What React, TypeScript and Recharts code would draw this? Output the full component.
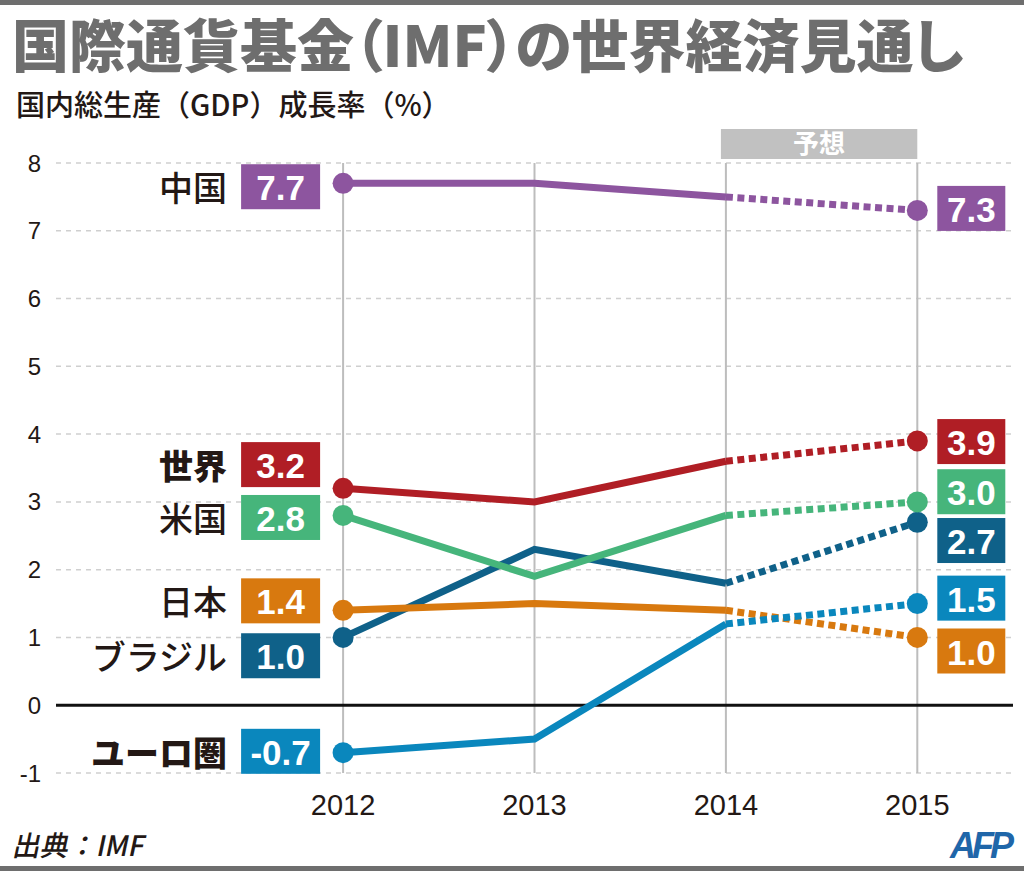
import {
  LineChart,
  Line,
  XAxis,
  YAxis,
  CartesianGrid,
  ReferenceLine,
  ReferenceArea,
  ReferenceDot,
} from 'recharts';

const years = [2012, 2013, 2014, 2015];
const forecastStart = 2014;
const yTicks = [-1, 0, 1, 2, 3, 4, 5, 6, 7, 8];

const chinaGrowth = [7.7, 7.7, 7.5, 7.3];
const worldGrowth = [3.2, 3.0, 3.6, 3.9];
const usGrowth = [2.8, 1.9, 2.8, 3.0];
const brazilGrowth = [1.0, 2.3, 1.8, 2.7];
const japanGrowth = [1.4, 1.5, 1.4, 1.0];
const euroGrowth = [-0.7, -0.5, 1.2, 1.5];

// where the value tags sit (in % units) so they don't overlap
const leftTagY = { china: 7.65, world: 3.55, us: 2.77, japan: 1.54, brazil: 0.73, euro: -0.68 };
const rightTagY = { china: 7.33, world: 3.89, us: 3.15, brazil: 2.43, euro: 1.58, japan: 0.8 };

type Series = { key: string; name: string; color: string; values: number[]; heavy?: boolean };

const SERIES: Series[] = [
  { key: 'brazil', name: 'ブラジル', color: '#0f6189', values: brazilGrowth },
  { key: 'us', name: '米国', color: '#46b57b', values: usGrowth },
  { key: 'japan', name: '日本', color: '#d8790f', values: japanGrowth },
  { key: 'euro', name: 'ユーロ圏', color: '#0a87bd', values: euroGrowth, heavy: true },
  { key: 'world', name: '世界', color: '#b01e25', values: worldGrowth, heavy: true },
  { key: 'china', name: '中国', color: '#8d559f', values: chinaGrowth },
];

const rows = years.map((year, i) => {
  const row: Record<string, number | null> = { year };
  SERIES.forEach((s) => {
    row[s.key] = year <= forecastStart ? s.values[i] : null;
    row[s.key + '_f'] = year >= forecastStart ? s.values[i] : null;
  });
  return row;
});

const CJK = '"Noto Sans CJK JP", "Noto Sans", sans-serif';
const LATIN = '"Liberation Sans", Arial, sans-serif';
const INK = '#231815';

function edgeDot(year: number, color: string) {
  return (p: any) => {
    if (p.payload?.year !== year || p.cy == null) return <g key={`d-${p.index}`} />;
    return <circle key={`d-${p.index}`} cx={p.cx} cy={p.cy} r={10.5} fill={color} />;
  };
}

function LeftTag({ cx, cy, s, value }: any) {
  return (
    <g>
      <text
        x={cx - 116}
        y={cy}
        textAnchor="end"
        dominantBaseline="central"
        fontFamily={CJK}
        fontSize={34}
        fontWeight={s.heavy ? 900 : 500}
        fill={INK}
      >
        {s.name}
      </text>
      <rect x={cx - 102} y={cy - 22.5} width={79} height={45} fill={s.color} />
      <text
        x={cx - 62.5}
        y={cy + 1}
        textAnchor="middle"
        dominantBaseline="central"
        fontFamily={LATIN}
        fontWeight={700}
        fontSize={35}
        fill="#fff"
      >
        {value.toFixed(1)}
      </text>
    </g>
  );
}

function RightTag({ cx, cy, s, value }: any) {
  return (
    <g>
      <rect x={cx + 20} y={cy - 22.5} width={68} height={45} fill={s.color} />
      <text
        x={cx + 54}
        y={cy + 1}
        textAnchor="middle"
        dominantBaseline="central"
        fontFamily={LATIN}
        fontWeight={700}
        fontSize={35}
        fill="#fff"
      >
        {value.toFixed(1)}
      </text>
    </g>
  );
}

export default function App() {
  return (
    <div
      style={{
        position: 'absolute',
        left: 0,
        top: 0,
        width: 1024,
        height: 871,
        background: '#fff',
        overflow: 'hidden',
      }}
    >
      <div style={{ position: 'absolute', left: 0, top: 0, width: 1024, height: 5, background: '#6e6e6e' }} />
      <div style={{ position: 'absolute', left: 0, bottom: 0, width: 1024, height: 5, background: '#6e6e6e' }} />
      <div
        style={{
          position: 'absolute',
          left: 12,
          top: 6,
          fontFamily: CJK,
          fontWeight: 900,
          fontSize: 57,
          lineHeight: '72px',
          color: '#6e6e6e',
          whiteSpace: 'nowrap',
          fontFeatureSettings: '"palt"',
        }}
      >
        国際通貨基金（IMF）の世界経済見通し
      </div>
      <div
        style={{
          position: 'absolute',
          left: 16,
          top: 83,
          fontFamily: CJK,
          fontWeight: 500,
          fontSize: 29,
          lineHeight: '40px',
          color: INK,
          whiteSpace: 'nowrap',
        }}
      >
        国内総生産（GDP）成長率（%）
      </div>

      <LineChart
        width={1024}
        height={871}
        data={rows}
        margin={{ top: 163, right: 11, bottom: 38, left: 0 }}
        style={{ position: 'absolute', left: 0, top: 0 }}
      >
        <CartesianGrid vertical={false} stroke="#cfcfcf" strokeDasharray="5 5" strokeWidth={1.5} />
        <XAxis
          dataKey="year"
          type="number"
          domain={[2010.5, 2015.5]}
          ticks={years}
          height={60}
          axisLine={false}
          tickLine={false}
          tickSize={0}
          tickMargin={21}
          tick={{ fill: INK, fontSize: 29, fontFamily: LATIN }}
        />
        <YAxis
          domain={[-1, 8]}
          ticks={yTicks}
          allowDataOverflow
          width={56}
          axisLine={false}
          tickLine={false}
          tickSize={0}
          tickMargin={15}
          tick={{ fill: INK, fontSize: 24, fontFamily: LATIN }}
        />
        {years.map((y) => (
          <ReferenceLine key={y} x={y} stroke="#bdbdbd" strokeWidth={2} />
        ))}
        <ReferenceLine y={0} stroke="#111" strokeWidth={3} />
        <ReferenceArea
          x1={forecastStart - 0.026}
          x2={2015}
          y1={8.06}
          y2={8.5}
          ifOverflow="visible"
          fill="#c1c1c1"
          fillOpacity={1}
          stroke="none"
          label={{ value: '予想', fill: '#fff', fontSize: 26, fontWeight: 700, fontFamily: CJK, position: 'center' }}
        />
        {SERIES.map((s) => (
          <Line
            key={s.key}
            dataKey={s.key}
            stroke={s.color}
            strokeWidth={7}
            type="linear"
            dot={edgeDot(years[0], s.color)}
            activeDot={false}
            connectNulls={false}
            isAnimationActive={false}
          />
        ))}
        {SERIES.map((s) => (
          <Line
            key={s.key + '_f'}
            dataKey={s.key + '_f'}
            stroke={s.color}
            strokeWidth={7}
            strokeDasharray="7 4.5"
            type="linear"
            dot={edgeDot(years[years.length - 1], s.color)}
            activeDot={false}
            connectNulls={false}
            isAnimationActive={false}
          />
        ))}
        {SERIES.map((s) => (
          <ReferenceDot
            key={'l' + s.key}
            x={years[0]}
            y={(leftTagY as any)[s.key]}
            r={0}
            ifOverflow="visible"
            shape={(p: any) => <LeftTag cx={p.cx} cy={p.cy} s={s} value={s.values[0]} />}
          />
        ))}
        {SERIES.map((s) => (
          <ReferenceDot
            key={'r' + s.key}
            x={years[years.length - 1]}
            y={(rightTagY as any)[s.key]}
            r={0}
            ifOverflow="visible"
            shape={(p: any) => <RightTag cx={p.cx} cy={p.cy} s={s} value={s.values[s.values.length - 1]} />}
          />
        ))}
      </LineChart>

      <div
        style={{
          position: 'absolute',
          left: 14,
          top: 826,
          fontFamily: CJK,
          fontSize: 28,
          lineHeight: '36px',
          fontWeight: 500,
          color: INK,
          whiteSpace: 'nowrap',
          transform: 'skewX(-12deg)',
        }}
      >
        出典：IMF
      </div>
      <div
        style={{
          position: 'absolute',
          left: 950,
          top: 826,
          fontFamily: LATIN,
          fontSize: 36,
          lineHeight: '40px',
          fontWeight: 700,
          fontStyle: 'italic',
          color: '#1f66a9',
          letterSpacing: -4,
        }}
      >
        AFP
      </div>
    </div>
  );
}
